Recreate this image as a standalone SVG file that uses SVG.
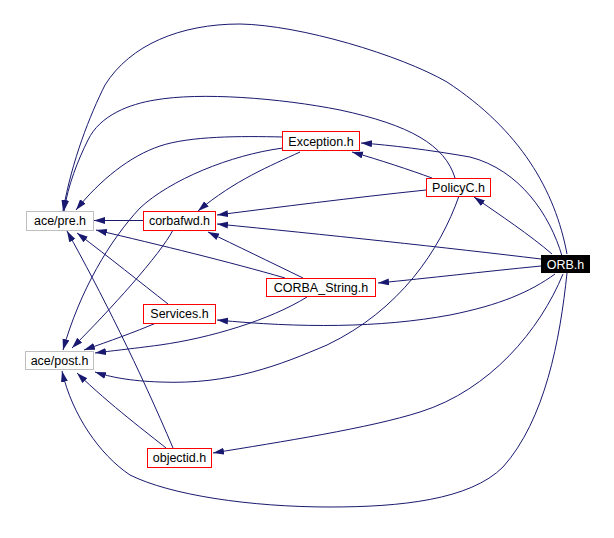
<svg xmlns="http://www.w3.org/2000/svg" width="614" height="538" viewBox="0 0 614 538">
<defs>
<marker id="a" markerWidth="12" markerHeight="8" refX="11" refY="3.5" orient="auto" markerUnits="userSpaceOnUse"><path d="M0,0 L11,3.5 L0,7 z" fill="#191970"/></marker>
<style>
.e{fill:none;stroke:#191970;stroke-width:1;marker-end:url(#a)}
.r{fill:#ffffff;stroke:#ff0000;stroke-width:1}
.g{fill:#ffffff;stroke:#bfbfbf;stroke-width:1}
.b{fill:#000000;stroke:#000000;stroke-width:1}
text{font-family:"Liberation Sans",Arial,Helvetica,sans-serif;font-size:12.5px;text-anchor:middle;fill:#000000}
.w{fill:#ffffff}
</style>
</defs>
<rect width="614" height="538" fill="#ffffff"/>
<g id="connectors">
<path class="e" d="M567,254 C555,190 520,130 447,82 C400,55 300,25 240,24 C180,24 130,45 105,85 C90,115 72,160 63,211"/>
<path class="e" d="M567,273 C560,340 545,420 503,467 C470,500 400,507 330,507 C250,507 170,495 130,475 C100,455 72,415 62,371"/>
<path class="e" d="M455,178 C445,145 410,125 340,110 C280,98 200,92 155,100 C130,104 100,115 88,140 C78,160 68,185 64,211"/>
<path class="e" d="M283,137 C240,136 190,136 160,146 C130,156 100,180 76,210"/>
<path class="e" d="M283,148 C230,155 170,180 140,208 C110,240 80,290 63,350"/>
<path class="e" d="M300,152 C270,166 235,180 198,211"/>
<path class="e" d="M143,220.5 L94,220.5"/>
<path class="e" d="M173,230 C160,255 110,310 72,348"/>
<path class="e" d="M432,178 C410,170 380,160 352,152"/>
<path class="e" d="M426,190 C350,198 280,207 217,215"/>
<path class="e" d="M459,196 C440,250 400,310 327,345 C280,365 230,385 160,382 C130,381 110,377 95,372"/>
<path class="e" d="M562,256 C550,215 520,170 470,157 C430,150 390,145 361,143"/>
<path class="e" d="M552,254 C530,235 500,215 474,197"/>
<path class="e" d="M541,259 C450,248 320,234 217,224"/>
<path class="e" d="M541,266 C480,272 430,278 378,283"/>
<path class="e" d="M555,274 C530,292 500,305 450,315 C380,328 300,328 217,320"/>
<path class="e" d="M563,274 C540,330 490,390 420,412 C370,428 280,442 213,453"/>
<path class="e" d="M285,278 C230,262 160,245 96,230"/>
<path class="e" d="M303,278 C270,262 235,245 208,232"/>
<path class="e" d="M307,297 C270,320 210,338 160,345 C130,349 110,351 95,353"/>
<path class="e" d="M168,304 C140,282 110,258 77,233"/>
<path class="e" d="M156,323 C135,332 110,341 84,350"/>
<path class="e" d="M173,448 C140,370 100,290 67,231"/>
<path class="e" d="M166,448 C150,435 110,405 77,373"/>
</g>
<g id="acepre"><rect class="g" x="26.5" y="211.5" width="67" height="19"/><text x="60" y="225">ace/pre.h</text></g>
<g id="corbafwd"><rect class="r" x="143.5" y="211.5" width="72" height="19"/><text x="179.5" y="225">corbafwd.h</text></g>
<g id="exception"><rect class="r" x="282.5" y="131.5" width="77" height="19"/><text x="321" y="145.5">Exception.h</text></g>
<g id="policyc"><rect class="r" x="426.5" y="178.5" width="64" height="18"/><text x="458.5" y="192">PolicyC.h</text></g>
<g id="orb"><rect class="b" x="541.5" y="255.5" width="48" height="17"/><text class="w" x="565.5" y="268.5">ORB.h</text></g>
<g id="corbastring"><rect class="r" x="266.5" y="278.5" width="109" height="18"/><text x="321" y="292">CORBA_String.h</text></g>
<g id="services"><rect class="r" x="143.5" y="304.5" width="72" height="19"/><text x="179.5" y="318">Services.h</text></g>
<g id="acepost"><rect class="g" x="25.5" y="351.5" width="68" height="18"/><text x="59.5" y="365">ace/post.h</text></g>
<g id="objectid"><rect class="r" x="147.5" y="448.5" width="64" height="19"/><text x="179.5" y="462">objectid.h</text></g>
</svg>
